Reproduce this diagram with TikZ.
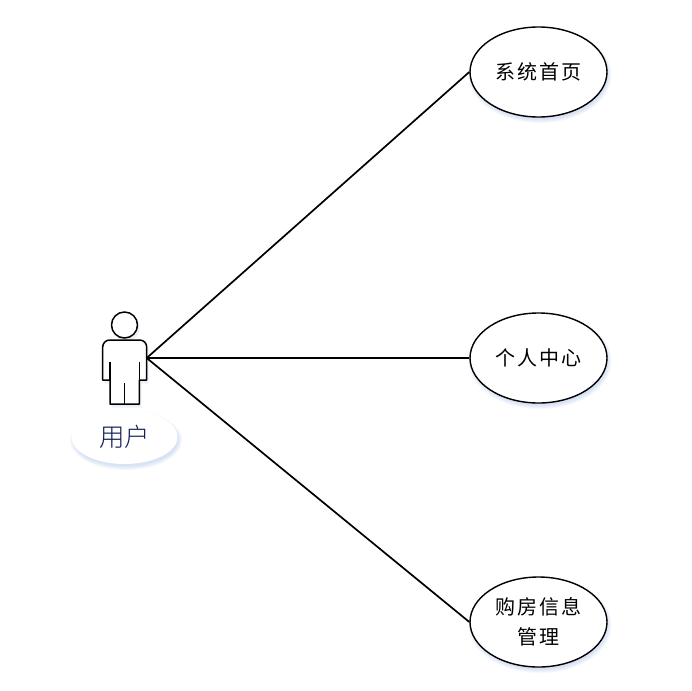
\documentclass[tikz,border=0pt]{standalone}
\usepackage{fontspec}
\usetikzlibrary{shapes.geometric}
\newfontfamily\cjkfont[LetterSpace=9]{Noto Sans CJK SC}
\newfontfamily\cjkplain{Noto Sans CJK SC Light}
\definecolor{shadowblue}{HTML}{8FB2E4}
\definecolor{usertext}{HTML}{14225C}
\newcommand{\softshadow}[4]{%
  \foreach \g in {3,2,1,0,-1}{%
    \fill[shadowblue,opacity=0.08] (#1+1.5,#2+3) ellipse ({#3+\g} and {#4+\g});}%
}
\newcommand{\actorbody}{(110,404) -- (110,380) -- (102.7,380) -- (102.7,347) arc[start angle=180,end angle=270,radius=7] -- (139.7,340) arc[start angle=-90,end angle=0,radius=7] -- (146.7,380) -- (139.3,380) -- (139.3,404) -- cycle}
\tikzset{
  x=1pt,y=-1pt,
  usecase/.style={draw=black,line width=1.4pt,fill=white,ellipse,minimum width=137pt,minimum height=90pt,inner sep=0pt,align=center,font=\cjkfont\fontsize{20pt}{30pt}\selectfont,text=black},
  link/.style={draw=black,line width=1.7pt},
  actorline/.style={draw=black,line width=1.5pt,line join=round,line cap=butt},
  rolelabel/.style={ellipse,fill=white,minimum width=106pt,minimum height=54pt,inner sep=0pt,text=usertext,font=\cjkplain\fontsize{25.5pt}{28pt}\selectfont},
}
\begin{document}
\begin{tikzpicture}
\useasboundingbox (0,0) rectangle (692,690);
\fill[white] (0,0) rectangle (692,690);
% soft shadows
\softshadow{538.5}{72}{68.5}{45}
\softshadow{538.5}{358}{68.5}{45}
\softshadow{538.5}{622}{68.5}{45}
\softshadow{124.5}{437}{53}{27}
\foreach \g in {1,2.5,4}{\fill[shadowblue,opacity=0.10,xshift=\g*0.6pt,yshift=-\g*1pt] \actorbody;
  \fill[shadowblue,opacity=0.10,xshift=\g*0.6pt,yshift=-\g*1pt] (124.5,325) circle (13);}
% nodes
\node[usecase] (home) at (538.5,72) {系统首页};
\node[usecase] (center) at (538.5,358) {个人中心};
\node[usecase] (house) at (538.5,622) {购房信息\\管理};
\node[rolelabel] (role) at (124.5,437) {用户};
\coordinate (actor) at (146.7,358);
% actor
\draw[actorline,fill=white] (124.5,325) circle (13);
\draw[actorline,fill=white] \actorbody;
\draw[actorline] (110,362) -- (110,380) (139.3,362) -- (139.3,380) (124.5,383) -- (124.5,404);
% connectors
\draw[link] (actor) -- (home.west);
\draw[link] (actor) -- (center.west);
\draw[link] (actor) -- (house.west);
\end{tikzpicture}
\end{document}
